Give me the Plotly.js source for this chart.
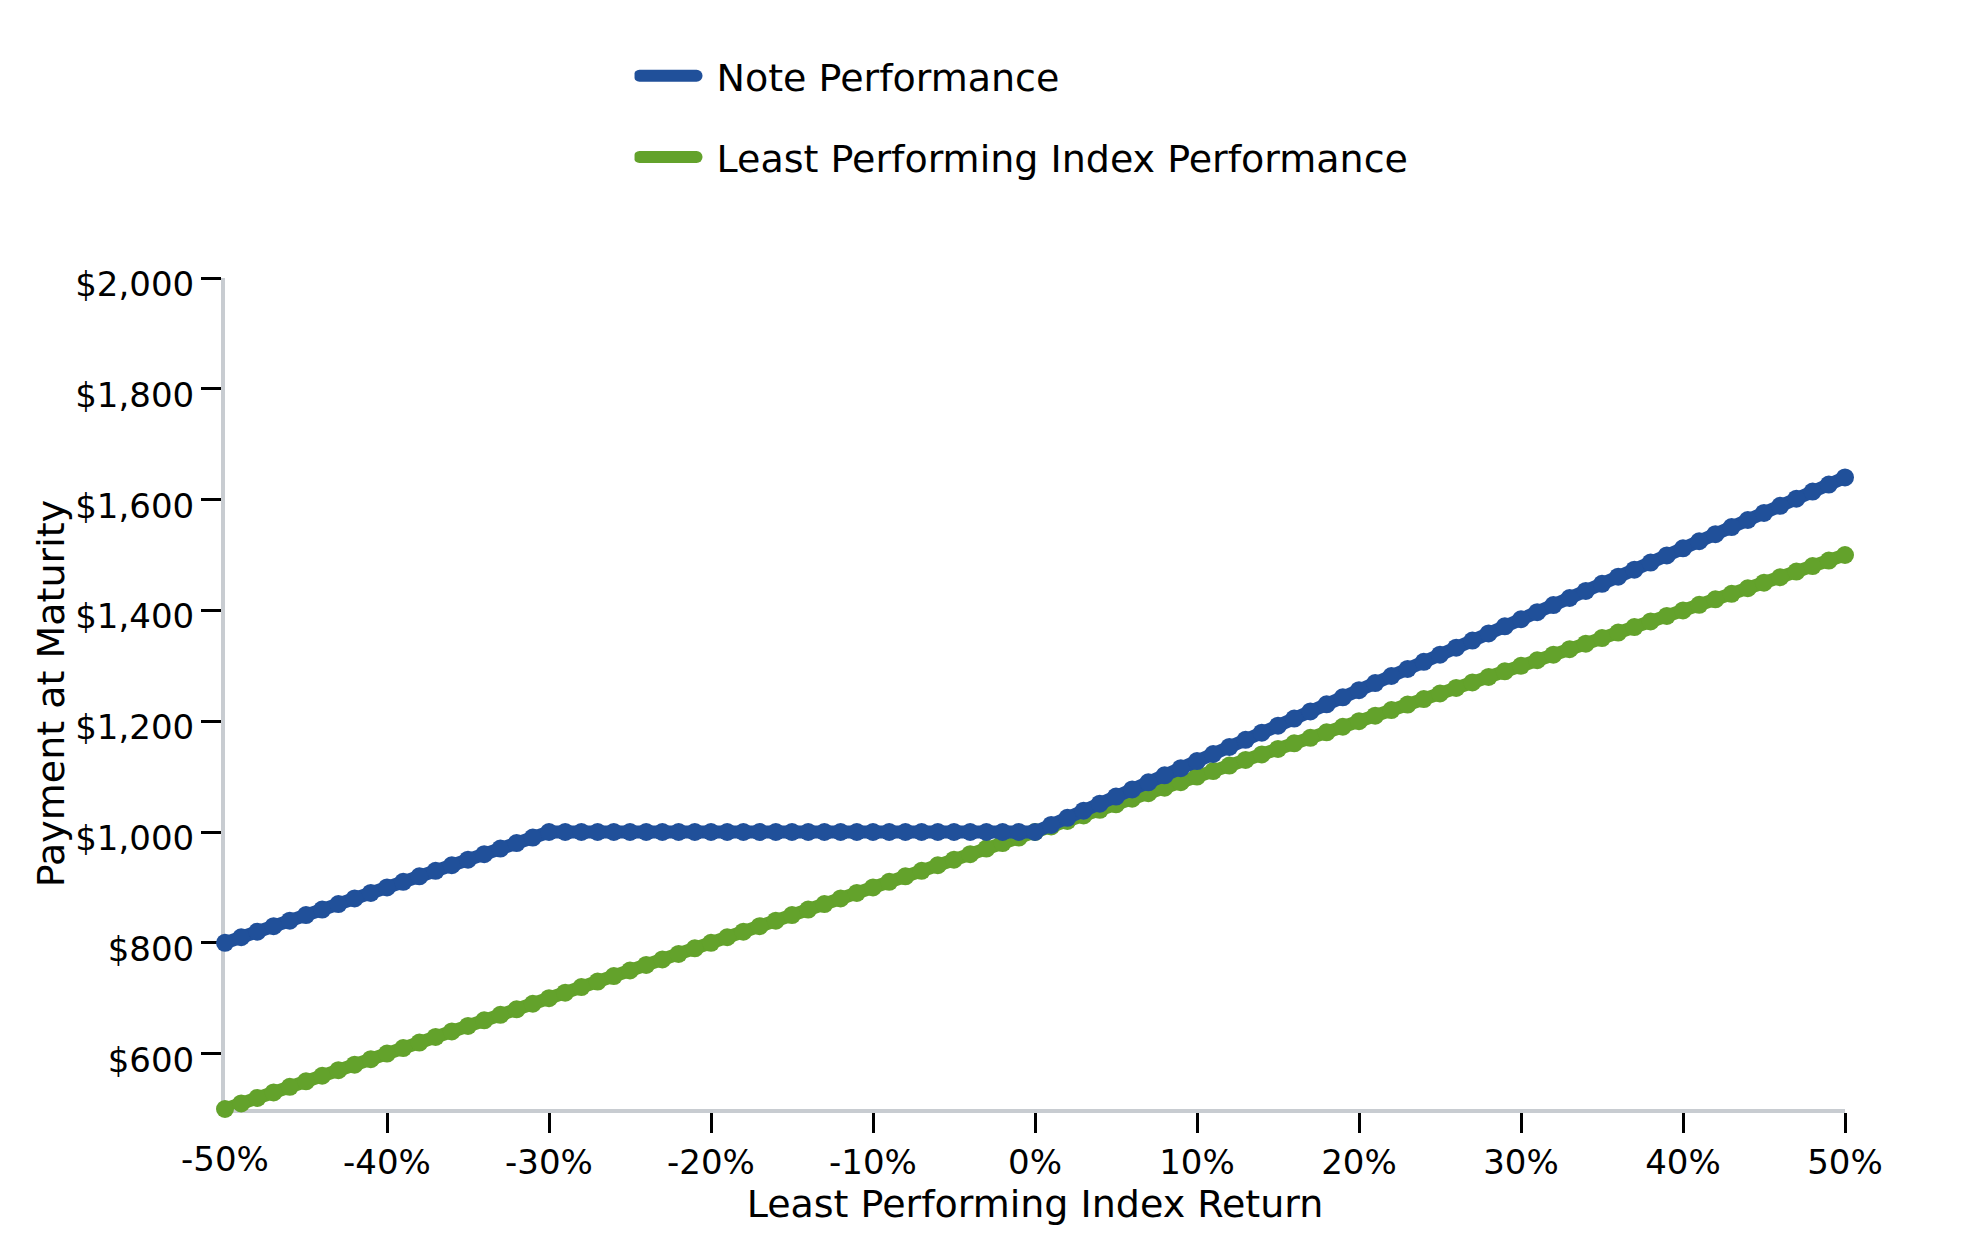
<!DOCTYPE html>
<html>
<head>
<meta charset="utf-8">
<script src="https://cdn.plot.ly/plotly-3.0.1.min.js"></script>
<style>
  html, body { margin: 0; padding: 0; background: #fff; }
  #plot { width: 1979px; height: 1250px; }
  /* thicker, rounded, slightly shorter legend keys */
  #plot .legend .legendlines path {
    stroke-width: 12px !important;
    stroke-linecap: round;
    stroke-dasharray: 57px 1000px !important;
  }
</style>
</head>
<body>
<div id="plot"></div>
<script>
// least performing index return, in percent
const indexReturn = [
  -50, -49, -48, -47, -46, -45, -44, -43, -42, -41,
  -40, -39, -38, -37, -36, -35, -34, -33, -32, -31,
  -30, -29, -28, -27, -26, -25, -24, -23, -22, -21,
  -20, -19, -18, -17, -16, -15, -14, -13, -12, -11,
  -10, -9, -8, -7, -6, -5, -4, -3, -2, -1,
  0, 1, 2, 3, 4, 5, 6, 7, 8, 9,
  10, 11, 12, 13, 14, 15, 16, 17, 18, 19,
  20, 21, 22, 23, 24, 25, 26, 27, 28, 29,
  30, 31, 32, 33, 34, 35, 36, 37, 38, 39,
  40, 41, 42, 43, 44, 45, 46, 47, 48, 49,
  50
];

// payment at maturity of the note
const notePayment = [
  800, 810, 820, 830, 840, 850, 860, 870, 880, 890,
  900, 910, 920, 930, 940, 950, 960, 970, 980, 990,
  1000, 1000, 1000, 1000, 1000, 1000, 1000, 1000, 1000, 1000,
  1000, 1000, 1000, 1000, 1000, 1000, 1000, 1000, 1000, 1000,
  1000, 1000, 1000, 1000, 1000, 1000, 1000, 1000, 1000, 1000,
  1000, 1012.8, 1025.6, 1038.4, 1051.2, 1064, 1076.8, 1089.6, 1102.4, 1115.2,
  1128, 1140.8, 1153.6, 1166.4, 1179.2, 1192, 1204.8, 1217.6, 1230.4, 1243.2,
  1256, 1268.8, 1281.6, 1294.4, 1307.2, 1320, 1332.8, 1345.6, 1358.4, 1371.2,
  1384, 1396.8, 1409.6, 1422.4, 1435.2, 1448, 1460.8, 1473.6, 1486.4, 1499.2,
  1512, 1524.8, 1537.6, 1550.4, 1563.2, 1576, 1588.8, 1601.6, 1614.4, 1627.2,
  1640
];

// value of $1,000 held in the least performing index
const indexPayment = [
  500, 510, 520, 530, 540, 550, 560, 570, 580, 590,
  600, 610, 620, 630, 640, 650, 660, 670, 680, 690,
  700, 710, 720, 730, 740, 750, 760, 770, 780, 790,
  800, 810, 820, 830, 840, 850, 860, 870, 880, 890,
  900, 910, 920, 930, 940, 950, 960, 970, 980, 990,
  1000, 1010, 1020, 1030, 1040, 1050, 1060, 1070, 1080, 1090,
  1100, 1110, 1120, 1130, 1140, 1150, 1160, 1170, 1180, 1190,
  1200, 1210, 1220, 1230, 1240, 1250, 1260, 1270, 1280, 1290,
  1300, 1310, 1320, 1330, 1340, 1350, 1360, 1370, 1380, 1390,
  1400, 1410, 1420, 1430, 1440, 1450, 1460, 1470, 1480, 1490,
  1500
];

const seriesNames = ["Note Performance", "Least Performing Index Performance"];

const xTickVals = [-40, -30, -20, -10, 0, 10, 20, 30, 40, 50];
const xTickText = ["-40%", "-30%", "-20%", "-10%", "0%", "10%", "20%", "30%", "40%", "50%"];
const xFirstVal = [-50];
const xFirstText = ["-50%"];

const BLUE = "#20509a";
const GREEN = "#63a22b";
const FONT = "DejaVu Sans";
const TICK_SIZE = 34;
const TEXT_SIZE = 38;

const indexTrace = {
  x: indexReturn,
  y: indexPayment,
  name: seriesNames[1],
  mode: "lines+markers",
  type: "scatter",
  line: { color: GREEN, width: 13 },
  marker: { color: GREEN, size: 18 },
  showlegend: false,
  cliponaxis: false
};

// note drawn over the index line, on an overlaid copy of the x axis
const noteTrace = {
  x: indexReturn,
  y: notePayment,
  name: seriesNames[0],
  mode: "lines+markers",
  type: "scatter",
  xaxis: "x2",
  line: { color: BLUE, width: 13 },
  marker: { color: BLUE, size: 18 },
  showlegend: false,
  cliponaxis: false
};

// legend entries: plain thick line samples
const noteKey = {
  x: [null], y: [null], name: seriesNames[0], mode: "lines", type: "scatter",
  line: { color: BLUE, width: 12 }, legendgroup: "a", legendrank: 1
};
const indexKey = {
  x: [null], y: [null], name: seriesNames[1], mode: "lines", type: "scatter",
  line: { color: GREEN, width: 12 }, legendgroup: "b", legendrank: 2
};

const axisCommon = {
  range: [-50, 50],
  showgrid: false,
  zeroline: false,
  layer: "below traces",
  tickfont: { family: FONT, size: TICK_SIZE, color: "#000" }
};

const layout = {
  width: 1979,
  height: 1250,
  margin: { t: 278, r: 134, b: 141, l: 225 },
  paper_bgcolor: "#fff",
  plot_bgcolor: "#fff",
  font: { family: FONT, size: TEXT_SIZE, color: "#000" },
  showlegend: true,
  legend: {
    x: 0.2528,
    xanchor: "left",
    y: 1.281,
    yanchor: "top",
    traceorder: "grouped",
    tracegroupgap: 29,
    itemwidth: 72,
    font: { family: FONT, size: TEXT_SIZE, color: "#000" },
    bgcolor: "rgba(0,0,0,0)"
  },
  xaxis: Object.assign({}, axisCommon, {
    tickvals: xTickVals,
    ticktext: xTickText,
    ticks: "outside",
    ticklen: 20,
    tickwidth: 3,
    tickcolor: "#000",
    showline: true,
    linecolor: "#c8ccd1",
    linewidth: 4,
    title: { text: "Least Performing Index Return", font: { family: FONT, size: TEXT_SIZE, color: "#000" }, standoff: 2 }
  }),
  xaxis2: Object.assign({}, axisCommon, {
    overlaying: "x",
    side: "bottom",
    tickvals: xFirstVal,
    ticktext: xFirstText,
    ticks: "outside",
    ticklen: 20,
    tickwidth: 3,
    tickcolor: "rgba(0,0,0,0)",
    showline: false
  }),
  yaxis: {
    range: [500, 2000],
    dtick: 200,
    tick0: 0,
    tickprefix: "$",
    tickformat: ",d",
    showgrid: false,
    zeroline: false,
    layer: "below traces",
    ticks: "outside",
    ticklen: 20,
    tickwidth: 3,
    tickcolor: "#000",
    ticklabelshift: 6,
    showline: true,
    linecolor: "#c8ccd1",
    linewidth: 4,
    tickfont: { family: FONT, size: TICK_SIZE, color: "#000" },
    title: { text: "Payment at Maturity", font: { family: FONT, size: TEXT_SIZE, color: "#000" }, standoff: 0 }
  }
};

Plotly.newPlot("plot", [indexTrace, noteTrace, noteKey, indexKey], layout, { displayModeBar: false, staticPlot: true });
</script>
</body>
</html>
